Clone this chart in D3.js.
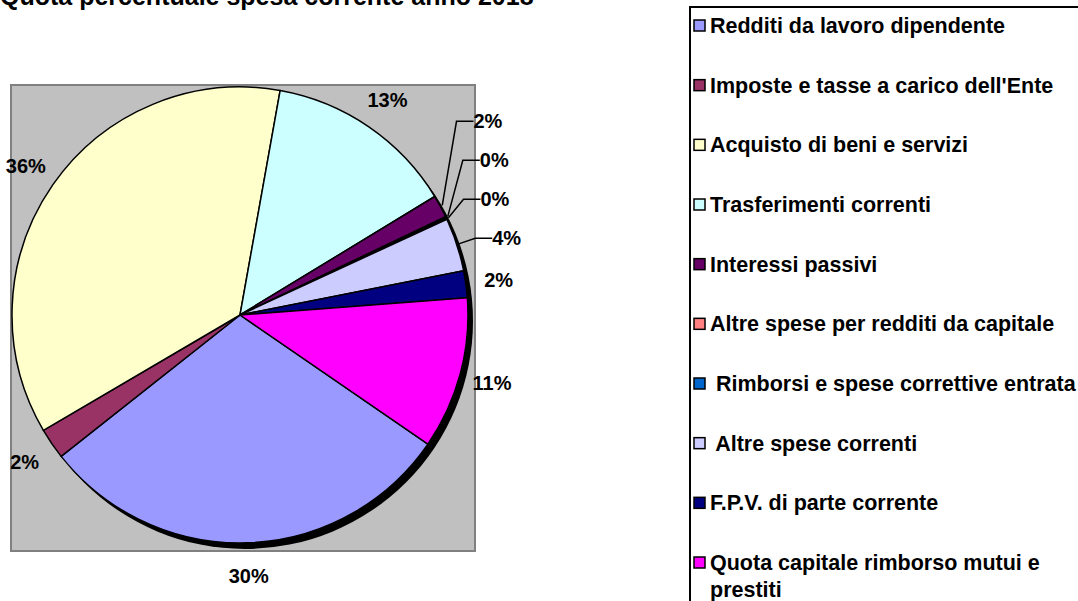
<!DOCTYPE html>
<html>
<head>
<meta charset="utf-8">
<script src="https://cdn.jsdelivr.net/npm/d3@7"></script>
<style>
  body { margin: 0; background: #fff; }
  svg { display: block; font-family: 'Liberation Sans', Arial, sans-serif; font-weight: bold; }
</style>
</head>
<body>
<div id="chart-area"></div>
<script>
const width = 1078;
const height = 601;

const titleText = 'Quota percentuale spesa corrente anno 2018';

const categories = [
    'Redditi da lavoro dipendente',
    'Imposte e tasse a carico dell\'Ente',
    'Acquisto di beni e servizi',
    'Trasferimenti correnti',
    'Interessi passivi',
    'Altre spese per redditi da capitale',
    ' Rimborsi e spese correttive entrata',
    ' Altre spese correnti',
    'F.P.V. di parte corrente',
    'Quota capitale rimborso mutui e prestiti'
];
const values = [29.8, 2.2, 36.3, 13.5, 1.6, 0.1, 0.1, 3.8, 1.9, 10.8];
const colors = ['#9999FF', '#993366', '#FFFFCC', '#CCFFFF', '#660066',
    '#FF8080', '#0066CC', '#CCCCFF', '#000080', '#FF00FF'];

// slices whose labels sit on leader lines
const leaderIdx = [4, 5, 6, 7];

const cx = 240, cy = 315, radius = 228, labelRadius = 261;
const startDeg = 124.5;

let svg = d3.select('#chart-area').append('svg')
    .attr('width', width)
    .attr('height', height);

svg.append('text')
    .attr('x', 0)
    .attr('y', 5)
    .attr('font-size', '25px')
    .text(titleText);

// plot area
svg.append('rect')
    .attr('x', 11).attr('y', 85)
    .attr('width', 464).attr('height', 466)
    .attr('fill', '#C0C0C0')
    .attr('stroke', '#808080')
    .attr('stroke-width', 2);

let data = categories.map((c, i) => ({ name: c, value: values[i], color: colors[i] }));
let total = d3.sum(values);
let pct = d3.format('.0%');

let pie = d3.pie()
    .sort(null)
    .value((d) => d.value)
    .startAngle(startDeg * Math.PI / 180)
    .endAngle(startDeg * Math.PI / 180 + 2 * Math.PI);

let arcs = pie(data);
let arc = d3.arc().innerRadius(0).outerRadius(radius);
let labelArc = d3.arc().innerRadius(labelRadius).outerRadius(labelRadius);

let g = svg.append('g').attr('transform', `translate(${cx}, ${cy})`);

// shadow
g.append('circle')
    .attr('cx', 5).attr('cy', 6)
    .attr('r', radius)
    .attr('fill', '#000');

g.selectAll('path.slice').data(arcs).enter().append('path')
    .attr('class', 'slice')
    .attr('d', arc)
    .attr('fill', (d) => d.data.color)
    .attr('stroke', '#000')
    .attr('stroke-width', 1.5)
    .attr('stroke-linejoin', 'round');

// plain labels
g.selectAll('text.plain').data(arcs.filter((d, i) => !leaderIdx.includes(i))).enter().append('text')
    .attr('class', 'plain')
    .attr('x', (d) => labelArc.centroid(d)[0])
    .attr('y', (d) => labelArc.centroid(d)[1])
    .attr('text-anchor', 'middle')
    .attr('dominant-baseline', 'central')
    .attr('font-size', '20px')
    .text((d) => pct(d.data.value / total));

// leader labels: last one keeps its natural height, others stack upwards
let leaders = leaderIdx.map((i) => arcs[i]);
let step = 39;
let baseY = labelArc.centroid(leaders[leaders.length - 1])[1] + 4;
leaders.forEach((d, k) => {
    let mid = (d.startAngle + d.endAngle) / 2;
    let nx = labelRadius * Math.sin(mid);
    let ly = baseY - (leaders.length - 1 - k) * step;
    let px = (radius + 2) * Math.sin(mid);
    let py = -(radius + 2) * Math.cos(mid);
    g.append('polyline')
        .attr('points', `${px},${py} ${nx - 13},${ly} ${nx + 4},${ly}`)
        .attr('fill', 'none')
        .attr('stroke', '#000')
        .attr('stroke-width', 1.5);
    g.append('text')
        .attr('x', nx + 4)
        .attr('y', ly)
        .attr('dominant-baseline', 'central')
        .attr('font-size', '20px')
        .text(pct(d.data.value / total));
});

// legend
let legend = svg.append('g').attr('class', 'legend');
legend.append('rect')
    .attr('x', 690).attr('y', 7)
    .attr('width', 400).attr('height', 620)
    .attr('fill', '#fff')
    .attr('stroke', '#000')
    .attr('stroke-width', 2);

let ly = d3.scalePoint()
    .domain(categories)
    .range([26, 563]);

let items = legend.selectAll('g.item').data(data).enter().append('g')
    .attr('class', 'item')
    .attr('transform', (d) => `translate(694, ${ly(d.name)})`);

items.append('rect')
    .attr('x', 0).attr('y', -6)
    .attr('width', 11).attr('height', 11)
    .attr('fill', (d) => d.color)
    .attr('stroke', '#000')
    .attr('stroke-width', 1.5);

items.each(function(d) {
    let t = d3.select(this).append('text')
        .attr('x', 16)
        .attr('font-size', '21.5px')
        .attr('dominant-baseline', 'central')
        .style('white-space', 'pre');
    let lines = d.name === categories[9]
        ? ['Quota capitale rimborso mutui e', 'prestiti']
        : [d.name];
    lines.forEach((s, k) => {
        t.append('tspan').attr('x', 16).attr('dy', k === 0 ? 0 : 27).text(s);
    });
});
</script>
</body>
</html>
